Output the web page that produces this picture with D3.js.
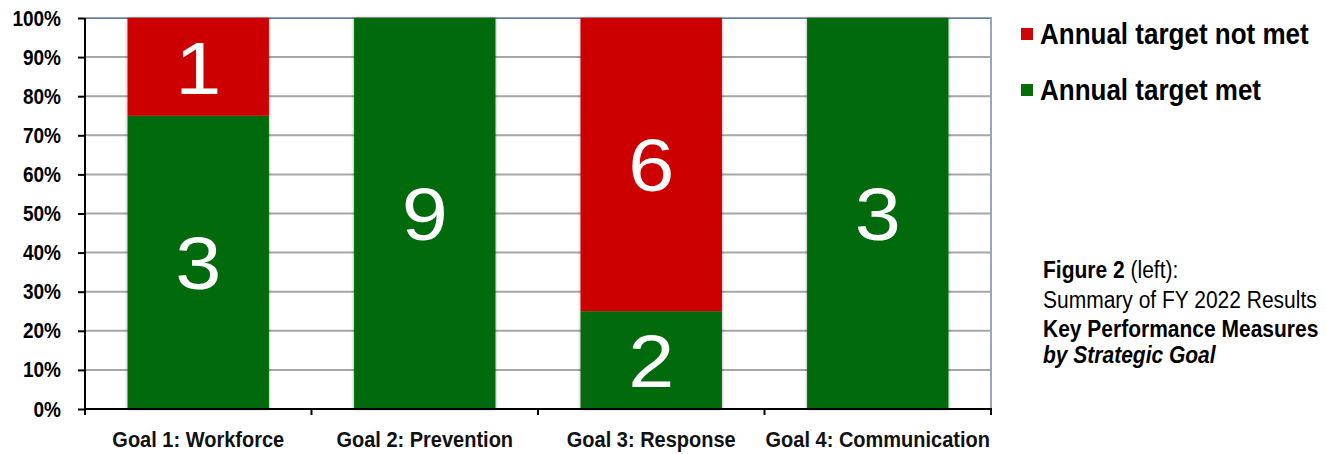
<!DOCTYPE html>
<html>
<head>
<meta charset="utf-8">
<script src="https://cdn.jsdelivr.net/npm/d3@7"></script>
<style>
  html, body { margin: 0; padding: 0; background: #fff; }
  svg { display: block; font-family: Arial, "Liberation Sans", sans-serif; }
</style>
</head>
<body>
<svg id="chart" width="1326" height="454"></svg>
<script>
// Key performance measures per strategic goal (counts of measures)
const goals = ["Goal 1: Workforce", "Goal 2: Prevention", "Goal 3: Response", "Goal 4: Communication"];
const targetMet = [3, 9, 2, 3];
const targetNotMet = [1, 0, 6, 0];
const seriesNames = ["Annual target not met", "Annual target met"];
const seriesColors = ["#cc0605", "#066b08"];
const yTicks = [0, 0.1, 0.2, 0.3, 0.4, 0.5, 0.6, 0.7, 0.8, 0.9, 1.0];

const svg = d3.select("#chart");
const m = { left: 85, right: 991, top: 18, bottom: 409 };
const TALL = 1.1; // text is set slightly tall

const x = d3.scaleBand().domain(goals).range([m.left, m.right]).paddingInner(0.376).paddingOuter(0.188);
const y = d3.scaleLinear().domain([0, 1]).range([m.bottom, m.top]);

// Shares of each goal's total
const rows = goals.map((g, i) => {
  const total = targetMet[i] + targetNotMet[i];
  return { goal: g, met: targetMet[i], notMet: targetNotMet[i], metShare: targetMet[i] / total, notShare: targetNotMet[i] / total };
});

// Place a text element at (px, py) with a vertical stretch around its baseline
function placeText(sel, px, py, sx = 1, sy = TALL) {
  return sel.attr("transform", `translate(${px},${py}) scale(${sx},${sy})`);
}

// Soft shadow for the bars
const defs = svg.append("defs");
const f = defs.append("filter").attr("id", "shadow").attr("x", "-10%").attr("y", "-10%").attr("width", "120%").attr("height", "120%");
f.append("feGaussianBlur").attr("in", "SourceAlpha").attr("stdDeviation", 1.5).attr("result", "b");
f.append("feComponentTransfer").attr("in", "b").attr("result", "s")
  .append("feFuncA").attr("type", "linear").attr("slope", 0.45);
const mg = f.append("feMerge");
mg.append("feMergeNode").attr("in", "s");
mg.append("feMergeNode").attr("in", "SourceGraphic");

// Gridlines
svg.append("g").selectAll("line").data(yTicks.filter(t => t > 0 && t < 1)).join("line")
  .attr("x1", m.left).attr("x2", m.right)
  .attr("y1", d => y(d)).attr("y2", d => y(d))
  .attr("stroke", "#a6a6a6").attr("stroke-width", 2);

// Plot frame: top and right edges
svg.append("line").attr("x1", m.left).attr("x2", m.right).attr("y1", y(1) - 0.5).attr("y2", y(1) - 0.5)
  .attr("stroke", "#a0a0a0").attr("stroke-width", 1);
svg.append("line").attr("x1", m.left).attr("x2", m.right).attr("y1", y(1) + 0.5).attr("y2", y(1) + 0.5)
  .attr("stroke", "#4f81bd").attr("stroke-width", 1);
svg.append("line").attr("x1", m.right).attr("x2", m.right).attr("y1", y(1) - 1).attr("y2", y(0))
  .attr("stroke", "#98a6b8").attr("stroke-width", 2);

// Stacked bars
const bars = svg.append("g").attr("filter", "url(#shadow)");
bars.selectAll("rect.met").data(rows).join("rect").attr("class", "met")
  .attr("x", d => x(d.goal)).attr("width", x.bandwidth())
  .attr("y", d => y(d.metShare)).attr("height", d => y(0) - y(d.metShare))
  .attr("fill", seriesColors[1]);
bars.selectAll("rect.not").data(rows.filter(d => d.notMet > 0)).join("rect").attr("class", "not")
  .attr("x", d => x(d.goal)).attr("width", x.bandwidth())
  .attr("y", d => y(1)).attr("height", d => y(d.metShare) - y(1))
  .attr("fill", seriesColors[0]);

// Value labels inside the segments
const lab = svg.append("g").attr("fill", "#fff").attr("font-size", 74).attr("text-anchor", "middle");
lab.selectAll("text.met").data(rows.filter(d => d.met > 0)).join("text")
  .attr("dy", "0.36em")
  .each(function (d) { placeText(d3.select(this), x(d.goal) + x.bandwidth() / 2, y(d.metShare / 2), 1.12, 1); })
  .text(d => d.met);
lab.selectAll("text.not").data(rows.filter(d => d.notMet > 0)).join("text")
  .attr("dy", "0.36em")
  .each(function (d) { placeText(d3.select(this), x(d.goal) + x.bandwidth() / 2, y(d.metShare + d.notShare / 2), 1.12, 1); })
  .text(d => d.notMet);

// Y axis
const yAxis = svg.append("g").attr("transform", `translate(${m.left},0)`)
  .call(d3.axisLeft(y).tickValues(yTicks).tickFormat(d3.format(".0%")).tickSize(7).tickPadding(17));
yAxis.select(".domain").attr("stroke", "#000").attr("stroke-width", 2).attr("d", `M0,${y(1)}V${y(0)}`);
yAxis.selectAll(".tick line").attr("stroke", "#000").attr("stroke-width", 2);
yAxis.selectAll(".tick text").attr("font-size", 19).attr("font-weight", "bold").attr("fill", "#000")
  .attr("font-family", "Arial, 'Liberation Sans', sans-serif")
  .attr("transform", `scale(1,${TALL + 0.05})`);

// X axis with boundary ticks between categories
const xAxisG = svg.append("g");
xAxisG.append("line").attr("x1", m.left).attr("x2", m.right + 1).attr("y1", y(0)).attr("y2", y(0))
  .attr("stroke", "#000").attr("stroke-width", 2);
const bounds = d3.range(goals.length + 1).map(i => m.left + i * (m.right - m.left) / goals.length);
xAxisG.selectAll("line.tk").data(bounds).join("line").attr("class", "tk")
  .attr("x1", d => d).attr("x2", d => d).attr("y1", y(0)).attr("y2", y(0) + 6)
  .attr("stroke", "#000").attr("stroke-width", 2);
xAxisG.selectAll("text").data(goals).join("text")
  .attr("text-anchor", "middle").attr("font-size", 20).attr("font-weight", "bold").attr("fill", "#111")
  .each(function (d) { placeText(d3.select(this), x(d) + x.bandwidth() / 2, 447); })
  .text(d => d);

// Legend
const legend = svg.append("g");
seriesNames.forEach((name, i) => {
  const gy = 34 + i * 56;
  legend.append("rect").attr("x", 1021).attr("y", gy - 6).attr("width", 12).attr("height", 12).attr("fill", seriesColors[i]);
  placeText(legend.append("text"), 1040, gy).attr("dy", "0.36em")
    .attr("font-size", 26).attr("font-weight", "bold").attr("fill", "#000").text(name);
});

// Figure caption
const cap = svg.append("g").attr("font-size", 21).attr("fill", "#000");
const t1 = placeText(cap.append("text"), 1043, 278);
t1.append("tspan").attr("font-weight", "bold").text("Figure 2");
t1.append("tspan").text(" (left):");
placeText(cap.append("text"), 1043, 308).text("Summary of FY 2022 Results");
placeText(cap.append("text"), 1043, 337).attr("font-weight", "bold").text("Key Performance Measures");
placeText(cap.append("text"), 1043, 363).attr("font-weight", "bold").attr("font-style", "italic").text("by Strategic Goal");
</script>
</body>
</html>
